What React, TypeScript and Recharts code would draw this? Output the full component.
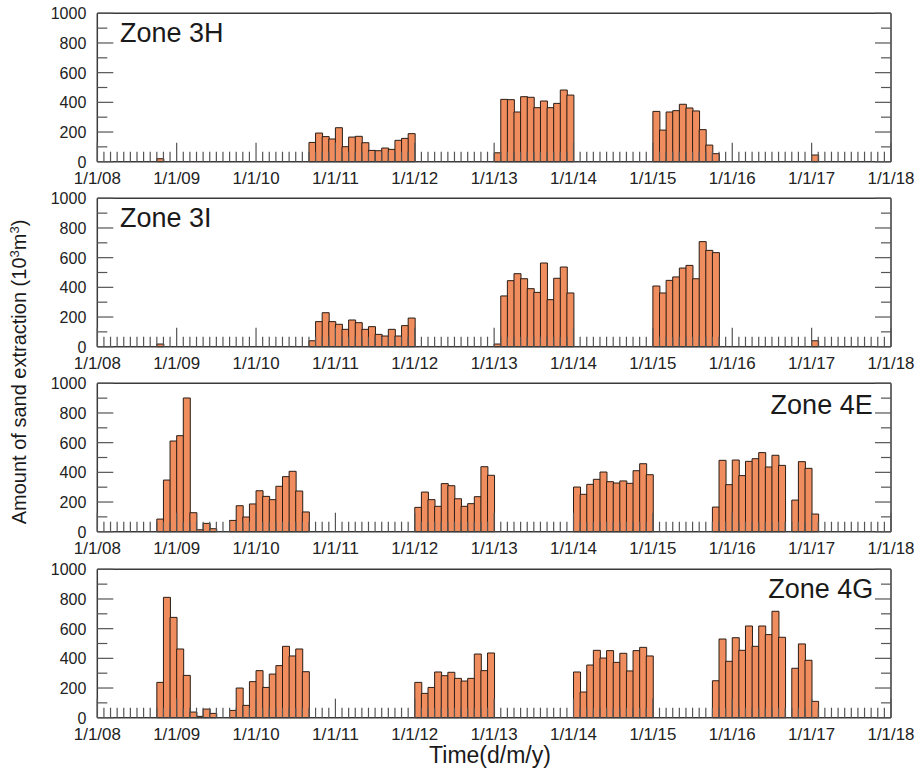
import React from 'react';
import { BarChart, Bar, XAxis, YAxis, ReferenceLine } from 'recharts';

const FONT = '"Liberation Sans", Arial, Helvetica, sans-serif';

// ---- categories / ticks ----
const START_YEAR = 2008;
const MONTH_COUNT = 120; // Jan 2008 .. Dec 2017
const YEAR_TICK_LABELS = ['1/1/08', '1/1/09', '1/1/10', '1/1/11', '1/1/12', '1/1/13', '1/1/14', '1/1/15', '1/1/16', '1/1/17', '1/1/18'];
const Y_TICKS = [0, 100, 200, 300, 400, 500, 600, 700, 800, 900, 1000];
const Y_LABELLED = [0, 200, 400, 600, 800, 1000];
const ZONE_NAMES = ['Zone 3H', 'Zone 3I', 'Zone 4E', 'Zone 4G'];

// ---- series: runs of monthly values, [first month 'YYYY-MM', values] ----
type Run = [string, number[]];

const zone3H: Run[] = [
  ['2008-10', [20]],
  ['2010-09', [130, 193, 169, 153, 229, 101, 166, 171, 128, 76, 74, 92, 83, 144, 157, 189]],
  ['2013-01', [60, 420, 418, 335, 438, 434, 364, 409, 364, 393, 483, 449]],
  ['2015-01', [339, 213, 335, 344, 387, 362, 342, 216, 112, 54]],
  ['2017-01', [45]],
];

const zone3I: Run[] = [
  ['2008-10', [18]],
  ['2010-09', [40, 169, 229, 169, 151, 117, 180, 162, 117, 135, 83, 72, 117, 72, 142, 193]],
  ['2013-01', [18, 342, 445, 492, 458, 391, 366, 564, 317, 461, 537, 362]],
  ['2015-01', [409, 362, 447, 470, 530, 548, 458, 708, 649, 634]],
  ['2017-01', [40]],
];

const zone4E: Run[] = [
  ['2008-10', [85, 348, 611, 647, 901, 128, 13, 56, 20]],
  ['2009-09', [76, 175, 99, 187, 276, 238, 216, 306, 371, 407, 274, 133]],
  ['2012-01', [164, 267, 216, 171, 324, 310, 222, 171, 189, 236, 438, 380]],
  ['2014-01', [301, 252, 319, 353, 402, 337, 328, 342, 326, 411, 458, 384]],
  ['2015-10', [166, 481, 317, 483, 378, 474, 492, 533, 436, 515, 447]],
  ['2016-10', [213, 472, 427, 119]],
];

const zone4G: Run[] = [
  ['2008-10', [238, 811, 676, 463, 285, 38, 9, 58, 29]],
  ['2009-09', [49, 200, 83, 243, 317, 204, 294, 351, 481, 416, 463, 310]],
  ['2012-01', [238, 164, 204, 308, 283, 306, 265, 247, 265, 429, 317, 436]],
  ['2014-01', [308, 173, 355, 454, 402, 452, 373, 434, 315, 452, 474, 416]],
  ['2015-10', [249, 530, 380, 539, 454, 618, 481, 618, 560, 717, 542]],
  ['2016-10', [333, 497, 387, 110]],
];

const ZONES: Run[][] = [zone3H, zone3I, zone4E, zone4G];

// ---- helpers ----
const monthIndex = (ym: string) => {
  const [y, m] = ym.split('-').map(Number);
  return (y - START_YEAR) * 12 + (m - 1);
};

const buildTable = (runs: Run[]) => {
  const rows = Array.from({ length: MONTH_COUNT }, (_, i) => ({ month: i + 0.5, value: null as number | null }));
  runs.forEach(([start, vals]) => {
    const s = monthIndex(start);
    vals.forEach((v, k) => {
      rows[s + k].value = v;
    });
  });
  return rows;
};

const X_TICKS = Array.from({ length: MONTH_COUNT + 1 }, (_, i) => i);

// ---- layout ----
const W = 918;
const PLOT_LEFT = 97.3;
const PLOT_RIGHT = 891;
const PLOT_TOP = 13.3;
const PLOT_H = 148.4;
const PANEL_TOPS = [0, 185, 370, 555.7];
const PANEL_HEIGHTS = [185, 185, 185, 215.3];
const EXTRA_BOTTOM = [12, 12, 12, 0];

const AXIS_COLOR = '#3a3a3a';
const TICK_COLOR = '#555';
const BAR_FILL = '#EF8D5E';
const BAR_STROKE = '#2a1d16';
const TICK_FONT = 16;

const XTick = (props: any) => {
  const { x, y, payload } = props;
  const v = payload.value as number;
  const isYear = v % 12 === 0;
  return (
    <g>
      <line x1={x} x2={x} y1={y} y2={y - (isYear ? 19 : 10)} stroke={TICK_COLOR} strokeWidth={1.2} />
      {isYear && (
        <text x={x} y={y + 22} textAnchor="middle" fontSize={TICK_FONT} fontFamily={FONT} fill="#222" textLength={47} lengthAdjust="spacingAndGlyphs">
          {YEAR_TICK_LABELS[v / 12]}
        </text>
      )}
    </g>
  );
};

const YTickLeft = (props: any) => {
  const { x, y, payload } = props;
  const v = payload.value as number;
  const major = Y_LABELLED.includes(v);
  return (
    <g>
      <line x1={x} x2={x + (major ? 16 : 10)} y1={y} y2={y} stroke={TICK_COLOR} strokeWidth={1.2} />
      {major && (
        <text x={x - 11} y={y} dy={6} textAnchor="end" fontSize={TICK_FONT} fontFamily={FONT} fill="#222">
          {v}
        </text>
      )}
    </g>
  );
};

const YTickRight = (props: any) => {
  const { x, y, payload } = props;
  const v = payload.value as number;
  const major = Y_LABELLED.includes(v);
  return <line x1={x} x2={x - (major ? 16 : 10)} y1={y} y2={y} stroke={TICK_COLOR} strokeWidth={1.2} />;
};

const Panel = ({ runs, idx }: { runs: Run[]; idx: number }) => {
  const data = buildTable(runs);
  const h = PANEL_HEIGHTS[idx] + EXTRA_BOTTOM[idx];
  const xAxisH = PANEL_HEIGHTS[idx] - PLOT_TOP - PLOT_H;
  return (
    <div style={{ position: 'absolute', left: 0, top: PANEL_TOPS[idx], width: W, height: h }}>
      <BarChart
        width={W}
        height={h}
        data={data}
        margin={{ top: PLOT_TOP, right: W - PLOT_RIGHT - 1, bottom: EXTRA_BOTTOM[idx], left: 0 }}
        barCategoryGap={0}
        barGap={0}
      >
        <XAxis
          type="number"
          dataKey="month"
          domain={[0, MONTH_COUNT]}
          ticks={X_TICKS}
          interval={0}
          height={xAxisH}
          tickSize={0}
          tickMargin={0}
          tickLine={false}
          axisLine={{ stroke: AXIS_COLOR, strokeWidth: 1.5 }}
          tick={<XTick />}
        />
        <YAxis
          type="number"
          domain={[0, 1000]}
          ticks={Y_TICKS}
          interval={0}
          width={PLOT_LEFT}
          tickSize={0}
          tickMargin={0}
          tickLine={false}
          axisLine={{ stroke: AXIS_COLOR, strokeWidth: 1.5 }}
          tick={<YTickLeft />}
        />
        <YAxis
          yAxisId="right"
          orientation="right"
          type="number"
          domain={[0, 1000]}
          allowDataOverflow
          ticks={Y_TICKS}
          interval={0}
          width={1}
          tickSize={0}
          tickMargin={0}
          tickLine={false}
          axisLine={{ stroke: AXIS_COLOR, strokeWidth: 1.5 }}
          tick={<YTickRight />}
        />
        <ReferenceLine y={1000} stroke={AXIS_COLOR} strokeWidth={1.5} />
        <Bar dataKey="value" fill={BAR_FILL} stroke={BAR_STROKE} strokeWidth={1} isAnimationActive={false} />
      </BarChart>
    </div>
  );
};

const ZONE_LABEL_POS: { x: number; y: number; anchor: 'start' | 'end' }[] = [
  { x: 120, y: 42.3, anchor: 'start' },
  { x: 120, y: 226.7, anchor: 'start' },
  { x: 872.7, y: 414, anchor: 'end' },
  { x: 873.3, y: 598.3, anchor: 'end' },
];

export default function App() {
  return (
    <div style={{ position: 'absolute', left: 0, top: 0, width: W, height: 771, background: '#fff', overflow: 'hidden' }}>
      {ZONES.map((runs, i) => (
        <Panel key={i} runs={runs} idx={i} />
      ))}
      <svg
        width={W}
        height={771}
        style={{ position: 'absolute', left: 0, top: 0, pointerEvents: 'none' }}
      >
        {ZONE_NAMES.map((name, i) => (
          <text
            key={name}
            x={ZONE_LABEL_POS[i].x}
            y={ZONE_LABEL_POS[i].y}
            textAnchor={ZONE_LABEL_POS[i].anchor}
            fontSize={27}
            fontFamily={FONT}
            fill="#1a1a1a"
          >
            {name}
          </text>
        ))}
        <text transform="translate(26, 372) rotate(-90)" textAnchor="middle" fontSize={20} fontFamily={FONT} fill="#1a1a1a">
          Amount of sand extraction (10
          <tspan dy={-7} fontSize={13}>3</tspan>
          <tspan dy={7}>m</tspan>
          <tspan dy={-7} fontSize={13}>3</tspan>
          <tspan dy={7}>)</tspan>
        </text>
        <text x={490} y={762.5} textAnchor="middle" fontSize={23} fontFamily={FONT} fill="#1a1a1a">
          Time(d/m/y)
        </text>
      </svg>
    </div>
  );
}
